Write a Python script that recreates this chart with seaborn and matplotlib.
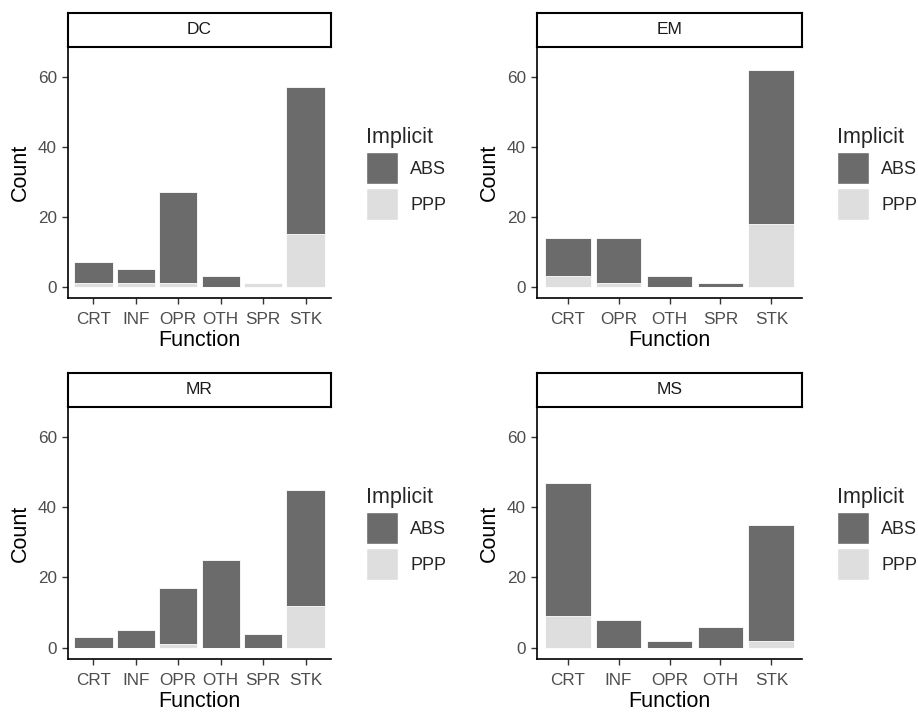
import pandas as pd
import matplotlib.pyplot as plt
import seaborn as sns
from matplotlib.patches import Patch

# counts per function, split by Implicit (ABS on top, PPP at the bottom)
dc_func = ["CRT", "INF", "OPR", "OTH", "SPR", "STK"]
dc_abs = [6, 4, 26, 3, 0, 42]
dc_ppp = [1, 1, 1, 0, 1, 15]

em_func = ["CRT", "OPR", "OTH", "SPR", "STK"]
em_abs = [11, 13, 3, 1, 44]
em_ppp = [3, 1, 0, 0, 18]

mr_func = ["CRT", "INF", "OPR", "OTH", "SPR", "STK"]
mr_abs = [3, 5, 16, 25, 4, 33]
mr_ppp = [0, 0, 1, 0, 0, 12]

ms_func = ["CRT", "INF", "OPR", "OTH", "STK"]
ms_abs = [38, 8, 2, 6, 33]
ms_ppp = [9, 0, 0, 0, 2]

panels = [
    ("DC", dc_func, dc_abs, dc_ppp),
    ("EM", em_func, em_abs, em_ppp),
    ("MR", mr_func, mr_abs, mr_ppp),
    ("MS", ms_func, ms_abs, ms_ppp),
]

dark = "#6b6b6b"
light = "#dedede"

sns.set_style("ticks")
plt.rcParams['font.family'] = ['Liberation Sans', 'DejaVu Sans']

W, H = 918, 712
fig = plt.figure(figsize=(9.18, 7.12), dpi=100)


def px_box(x0, y0, x1, y1):
    # pixel box (top-left origin) -> figure fraction
    return [x0 / W, 1 - y1 / H, (x1 - x0) / W, (y1 - y0) / H]


boxes = [(68, 47, 331, 298), (537, 47, 802, 298),
         (68, 407, 331, 659), (537, 407, 802, 659)]

for (name, func, a, p), (x0, y0, x1, y1) in zip(panels, boxes):
    df = pd.DataFrame({"Function": func, "ABS": a, "PPP": p})
    df["Total"] = df["ABS"] + df["PPP"]

    ax = fig.add_axes(px_box(x0, y0, x1, y1))
    sns.barplot(data=df, x="Function", y="Total", color=dark, saturation=1,
                width=0.9, edgecolor="white", linewidth=0.6, ax=ax)
    sns.barplot(data=df, x="Function", y="PPP", color=light, saturation=1,
                width=0.9, edgecolor="white", linewidth=0.6, ax=ax)

    ax.set_xlim(-0.6, len(func) - 0.4)
    ax.set_ylim(-3.2, 68.5)
    ax.set_yticks([0, 20, 40, 60])
    ax.set_xlabel("Function", fontsize=15.5, labelpad=2.5, color="black")
    ax.set_ylabel("Count", fontsize=15.5, labelpad=5, color="black")
    sns.despine(ax=ax)
    for s in ["left", "bottom"]:
        ax.spines[s].set_linewidth(1.2)
        ax.spines[s].set_color("black")
    ax.tick_params(length=4, width=1, color="#333333", labelsize=12.3,
                   labelcolor="#4d4d4d")
    ax.tick_params(axis="x", pad=6)
    ax.tick_params(axis="y", pad=4)

    # facet strip
    sax = fig.add_axes(px_box(x0, y0 - 34, x1, y0))
    sax.set_xticks([])
    sax.set_yticks([])
    for s in sax.spines.values():
        s.set_visible(True)
        s.set_linewidth(1.5)
        s.set_color("black")
    sax.text(0.5, 0.5, name, ha="center", va="center", fontsize=12.5,
             color="#1a1a1a", transform=sax.transAxes)

    handles = [Patch(facecolor=dark, edgecolor="white"),
               Patch(facecolor=light, edgecolor="white")]
    ax.legend(handles, ["ABS", "PPP"], title="Implicit", loc="upper left",
              bbox_to_anchor=((x1 + 35) / W, 1 - (y0 + 80) / H),
              bbox_transform=fig.transFigure, frameon=False, fontsize=13,
              title_fontsize=15.5, handlelength=1.77, handleheight=2.35,
              labelspacing=0.22, handletextpad=0.67, borderpad=0,
              borderaxespad=0, alignment="left")

fig.savefig("out.png", dpi=100)
